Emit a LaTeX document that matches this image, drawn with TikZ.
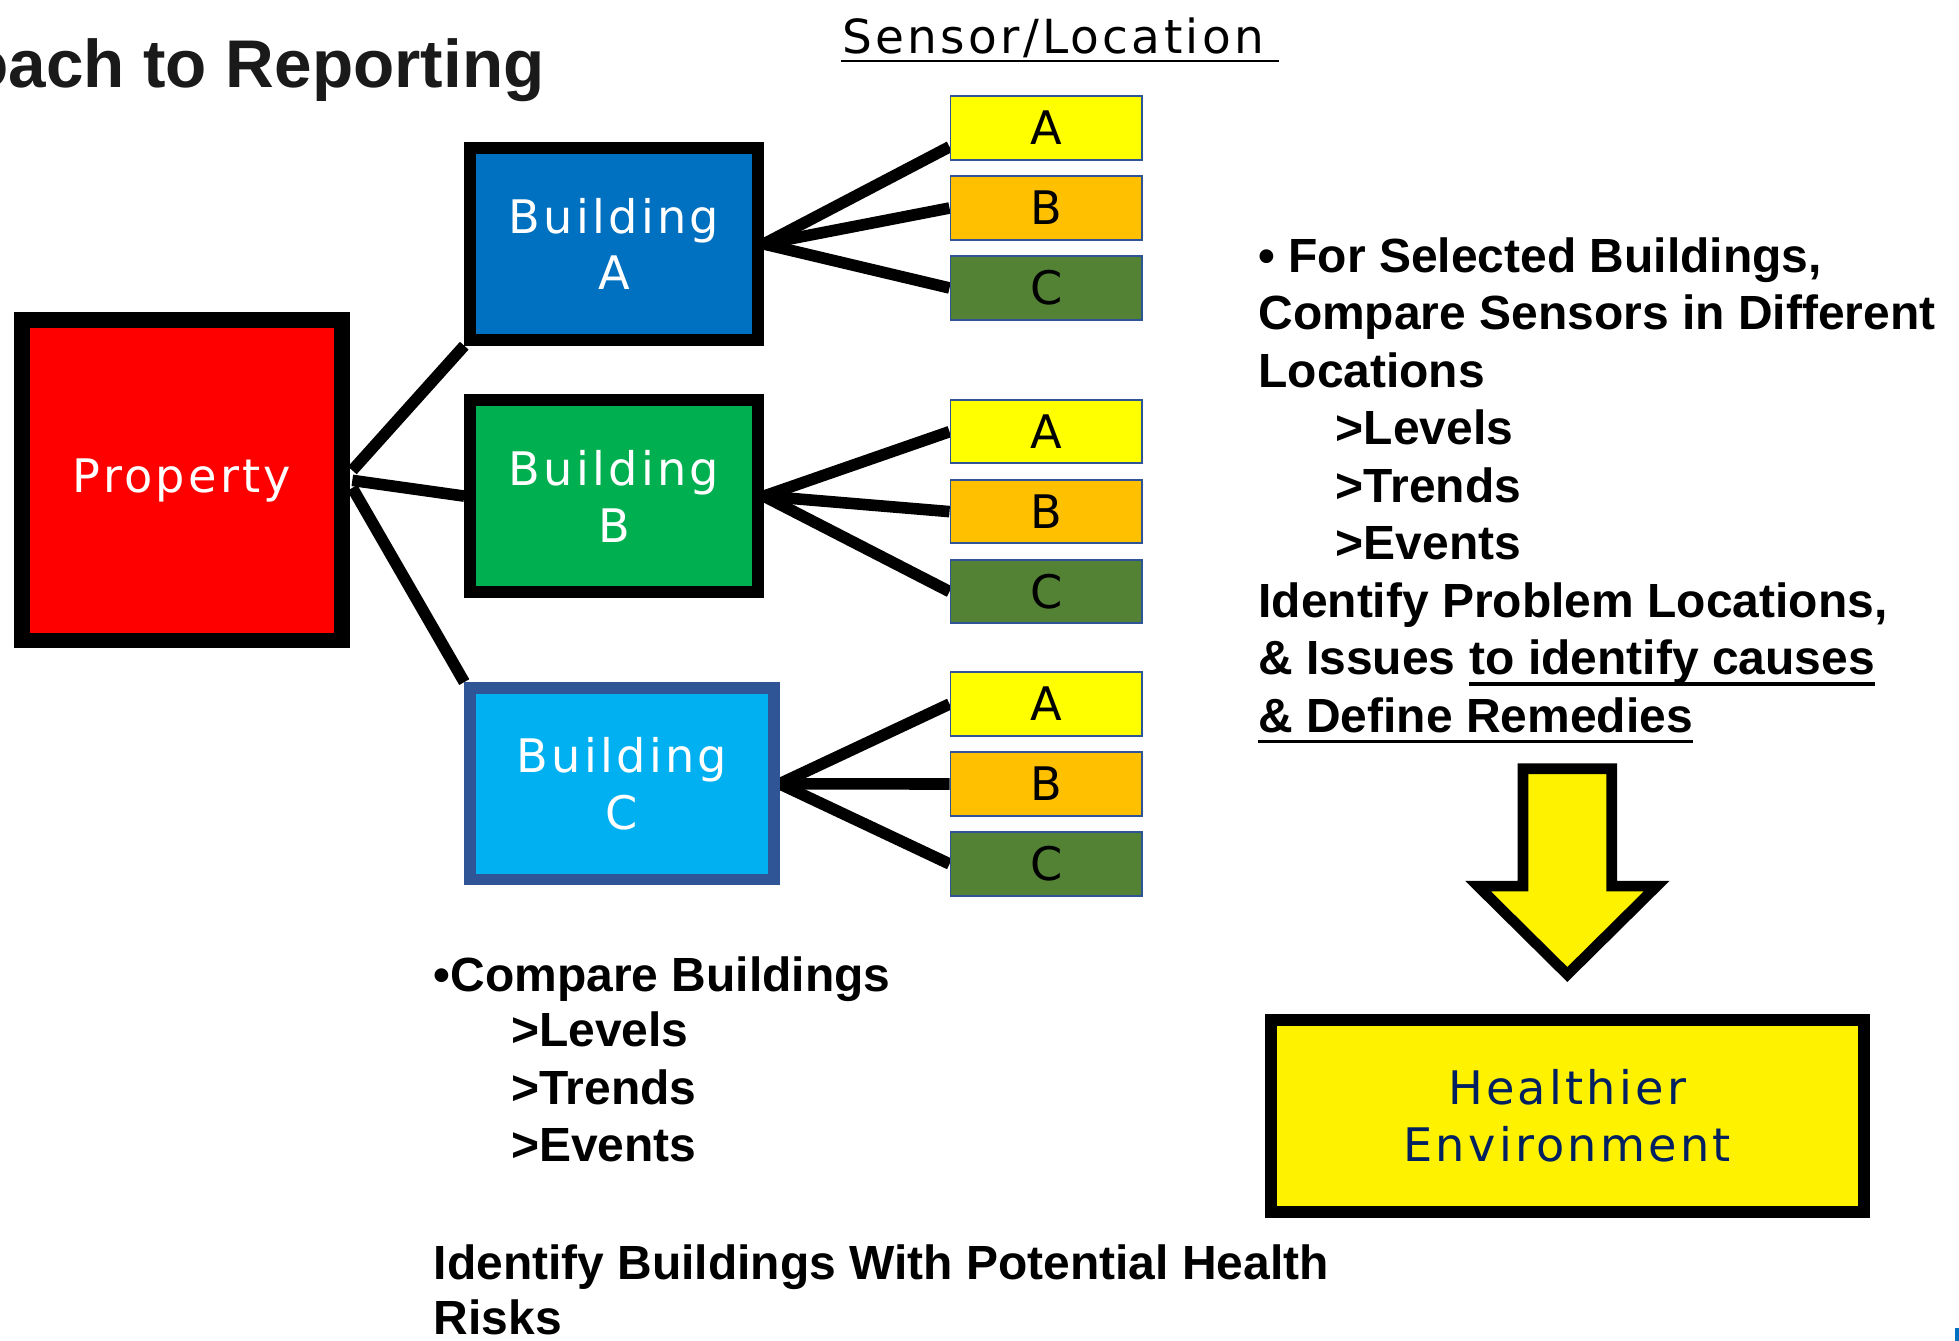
\documentclass[tikz,border=0pt]{standalone}
\usepackage{fontspec}
\setmainfont{Liberation Sans}
\newfontfamily\boxfont[LetterSpace=7]{DejaVu Sans}
\usetikzlibrary{calc}
\pgfdeclarelayer{bg}
\pgfsetlayers{bg,main}
\definecolor{propred}{HTML}{FF0000}
\definecolor{bablue}{HTML}{0070C0}
\definecolor{bbgreen}{HTML}{00B050}
\definecolor{bccyan}{HTML}{00B0F0}
\definecolor{bcborder}{HTML}{2F5597}
\definecolor{sborder}{HTML}{2F5597}
\definecolor{sA}{HTML}{FFFF00}
\definecolor{sB}{HTML}{FFC000}
\definecolor{sC}{HTML}{548235}
\definecolor{navy}{HTML}{002060}
\definecolor{titlegray}{HTML}{1A1A1A}
\definecolor{markblue}{HTML}{0070C0}
\begin{document}
\begin{tikzpicture}[x=1pt,y=-1pt,
  bld/.style={draw=black, line width=9.5pt, inner sep=0pt, align=center, text=white,
    minimum width=230.3pt, minimum height=153.3pt,
    font=\boxfont\fontsize{37}{45.5}\selectfont},
  sens/.style={draw=sborder, line width=1.5pt, minimum width=153.2pt, minimum height=50.8pt,
    inner sep=0pt, text=black, font=\boxfont\fontsize{37}{44}\selectfont},
  conn/.style={line width=9.3pt, black},
  rt/.style={anchor=base west, inner sep=0pt, text=black, font=\bfseries\fontsize{38.4}{46}\selectfont},
  ul/.style={line width=3pt, black}
]
\useasboundingbox (0,0) rectangle (1568,1073);
\clip (0,0) rectangle (1568,1073);
\begin{pgfonlayer}{bg}
  \fill[white] (0,0) rectangle (1568,1073);
\end{pgfonlayer}

% title
\node[anchor=base east, inner sep=0pt, text=titlegray, font=\bfseries\fontsize{54}{60}\selectfont] (title) at (436,70) {Approach to Reporting};

% Sensor/Location header
\node[anchor=base west, inner sep=0pt, font=\boxfont\fontsize{37.6}{44}\selectfont] (sl) at (674,42.7) {Sensor/Location};
\draw[line width=2.2pt] ($(sl.base west)+(-1,6.2)$) -- ++(351,0);

% property
\node[draw=black, line width=12.5pt, fill=propred, minimum width=256.1pt, minimum height=256.5pt,
  inner sep=0pt, text=white, font=\boxfont\fontsize{37}{45.5}\selectfont] (prop) at (145.7,384.5) {Property};

% buildings
\node[bld, fill=bablue] (bA) at (491.5,195.3) {Building\\A};
\node[bld, fill=bbgreen] (bB) at (491.5,397.1) {Building\\B};
\node[bld, fill=bccyan, draw=bcborder, minimum width=242.9pt] (bC) at (497.8,627.35) {Building\\C};

% sensors
\node[sens, fill=sA] (s1a) at (837.35,102.5) {A};
\node[sens, fill=sB] (s1b) at (837.35,166.5) {B};
\node[sens, fill=sC] (s1c) at (837.35,230.5) {C};
\node[sens, fill=sA] (s2a) at (837.35,345.5) {A};
\node[sens, fill=sB] (s2b) at (837.35,409.5) {B};
\node[sens, fill=sC] (s2c) at (837.35,473.5) {C};
\node[sens, fill=sA] (s3a) at (837.35,563.5) {A};
\node[sens, fill=sB] (s3b) at (837.35,627.5) {B};
\node[sens, fill=sC] (s3c) at (837.35,691.5) {C};

% connectors
\begin{pgfonlayer}{bg}
  \draw[conn] ($(prop.east)+(2,-8)$) -- (bA.south west);
  \draw[conn] ($(prop.east)+(2,0)$) -- (bB.west);
  \draw[conn] ($(prop.east)+(2,6)$) -- (bC.north west);
  \draw[conn] (bA.east) -- ($(s1a.west)+(0,15)$);
  \draw[conn] (bA.east) -- (s1b.west);
  \draw[conn] (bA.east) -- (s1c.west);
  \draw[conn] (bB.east) -- (s2a.west);
  \draw[conn] (bB.east) -- (s2b.west);
  \draw[conn] (bB.east) -- (s2c.west);
  \draw[conn] (bC.east) -- (s3a.west);
  \draw[conn] (bC.east) -- (s3b.west);
  \draw[conn] (bC.east) -- (s3c.west);
\end{pgfonlayer}

% right text block
\node[rt] (r1) at (1007,218) {• For Selected Buildings,};
\node[rt] (r2) at (1007,264) {Compare Sensors in Different};
\node[rt] (r3) at (1007,310) {Locations};
\node[rt] (r4) at (1069,356) {>Levels};
\node[rt] (r5) at (1069,402) {>Trends};
\node[rt] (r6) at (1069,448) {>Events};
\node[rt] (r7) at (1007,494) {Identify Problem Locations,};
\node[rt] (r8a) at (1007,540) {\& Issues\hbox{\ }};
\node[rt] (r8b) at (r8a.base east) {to identify causes};
\draw[ul] ($(r8b.base west)+(0,7.5)$) -- ($(r8b.base east)+(0,7.5)$);
\node[rt] (r9) at (1007,586) {\& Define Remedies};
\draw[ul] ($(r9.base west)+(0,7.5)$) -- ($(r9.base east)+(0,7.5)$);

% block arrow
\draw[line width=8.5pt, fill=yellow, miter limit=10]
  (1219,615.3) -- (1290,615.3) -- (1290,709.25) -- (1326,709.25) -- (1254.5,780)
  -- (1183,709.25) -- (1219,709.25) -- cycle;

% healthier environment
\node[draw=black, line width=9.6pt, fill=yellow, minimum width=474.3pt, minimum height=153.4pt,
  inner sep=0pt, align=center, text=navy, font=\boxfont\fontsize{37}{45.5}\selectfont]
  (health) at (1254.45,893.1) {Healthier\\Environment};

% bottom text block
\node[rt] (b1) at (347,793.7) {•Compare Buildings};
\node[rt] (b2) at (409,838) {>Levels};
\node[rt] (b3) at (409,884) {>Trends};
\node[rt] (b4) at (409,930) {>Events};
\node[rt] (b5) at (347,1024) {Identify Buildings With Potential Health};
\node[rt] (b6) at (347,1068) {Risks};

% small mark at the corner
\fill[markblue] (1565,1063) rectangle (1568,1073);
\end{tikzpicture}
\end{document}
